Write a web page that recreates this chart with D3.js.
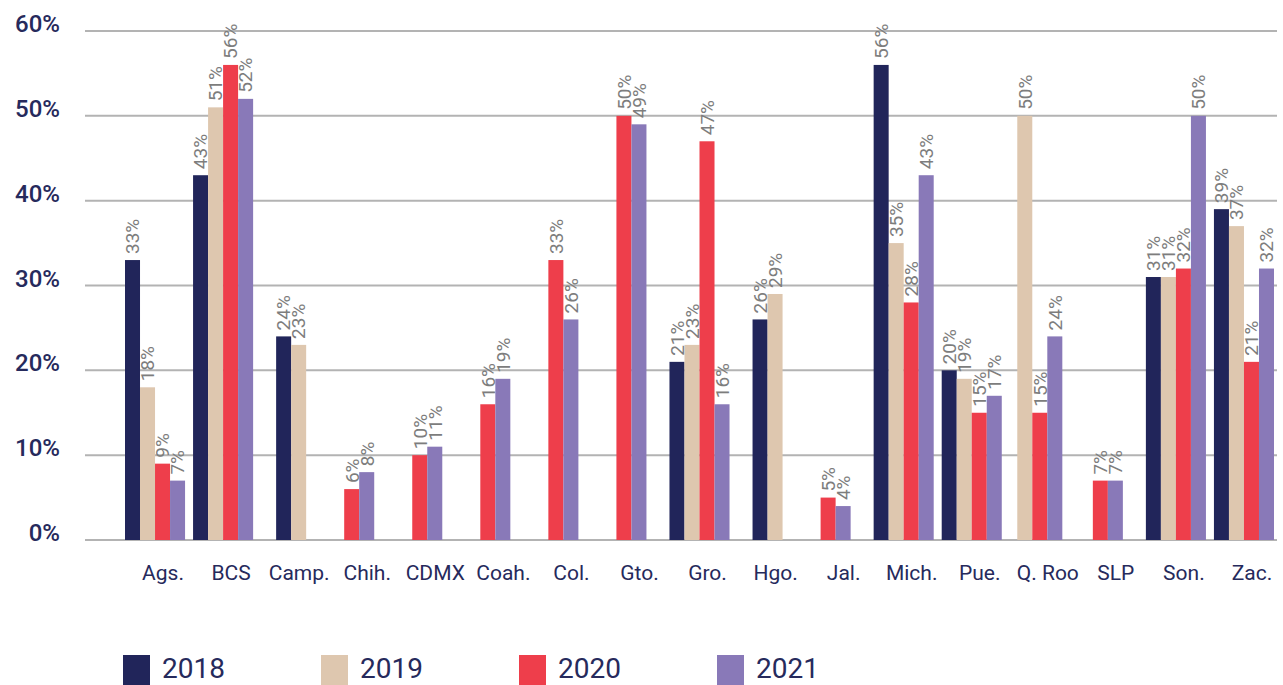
<!DOCTYPE html>
<html>
<head>
<meta charset="utf-8">
<script src="https://cdn.jsdelivr.net/npm/d3@7"></script>
<style>
  html, body { margin: 0; padding: 0; background: #fff; }
  svg { display: block; font-family: Roboto, "Noto Sans", sans-serif; }
</style>
</head>
<body>
<svg id="chart" width="1283" height="685"></svg>
<script>
// States (abbreviated) and yearly shares, in percent; null = no data for that year
const categories = ["Ags.", "BCS", "Camp.", "Chih.", "CDMX", "Coah.", "Col.", "Gto.", "Gro.",
  "Hgo.", "Jal.", "Mich.", "Pue.", "Q. Roo", "SLP", "Son.", "Zac."];
const years = ["2018", "2019", "2020", "2021"];
const values2018 = [33, 43, 24, null, null, null, null, null, 21, 26, null, 56, 20, null, null, 31, 39];
const values2019 = [18, 51, 23, null, null, null, null, null, 23, 29, null, 35, 19, 50, null, 31, 37];
const values2020 = [9, 56, null, 6, 10, 16, 33, 50, 47, null, 5, 28, 15, 15, 7, 32, 21];
const values2021 = [7, 52, null, 8, 11, 19, 26, 49, 16, null, 4, 43, 17, 24, 7, 50, 32];
const yTicks = [0, 10, 20, 30, 40, 50, 60];

const seriesValues = [values2018, values2019, values2020, values2021];
const colors = ["#21255a", "#dec7af", "#ee3e4b", "#8979b8"];

const svg = d3.select("#chart");

const y = d3.scaleLinear().domain([0, 60]).range([540, 31]);
const x = d3.scaleBand().domain(categories).range([121, 1278])
  .paddingInner(0.1176).paddingOuter(0.0588);
const color = d3.scaleOrdinal().domain(years).range(colors);

// Horizontal gridlines
svg.append("g").selectAll("line").data(yTicks).join("line")
  .attr("x1", 85).attr("x2", 1277)
  .attr("y1", d => y(d)).attr("y2", d => y(d))
  .attr("stroke", "#b3b3b3").attr("stroke-width", 2);

// Y tick labels
svg.append("g").selectAll("text").data(yTicks).join("text")
  .attr("x", 60).attr("y", d => y(d) + 1)
  .attr("text-anchor", "end")
  .attr("font-size", 24).attr("font-weight", 500)
  .attr("fill", "#262a5c")
  .text(d => d + "%");

// Bars: within each state, only years with data are packed and centred
const barW = x.bandwidth() / 4;
const groups = svg.append("g").selectAll("g").data(categories).join("g");

groups.each(function (cat, ci) {
  const present = years
    .map((yr, si) => ({ year: yr, value: seriesValues[si][ci] }))
    .filter(d => d.value !== null);
  const cx = x(cat) + x.bandwidth() / 2;
  const inner = d3.scaleBand().domain(present.map(d => d.year))
    .range([cx - present.length * barW / 2, cx + present.length * barW / 2]);
  const g = d3.select(this);
  g.selectAll("rect").data(present).join("rect")
    .attr("x", d => inner(d.year))
    .attr("width", inner.bandwidth())
    .attr("y", d => y(d.value))
    .attr("height", d => y(0) - y(d.value))
    .attr("fill", d => color(d.year));
  g.selectAll("text").data(present).join("text")
    .attr("transform", d =>
      `translate(${inner(d.year) + inner.bandwidth() / 2},${y(d.value) - 6}) rotate(-90)`)
    .attr("dy", "0.36em")
    .attr("text-anchor", "start")
    .attr("font-size", 19)
    .attr("fill", "#7d7d7d")
    .text(d => d.value + "%");
});

// Category axis
const xAxis = svg.append("g")
  .attr("transform", "translate(0,540)")
  .call(d3.axisBottom(x).tickSize(0).tickPadding(0));
xAxis.select(".domain").remove();
xAxis.selectAll("text")
  .attr("y", 40).attr("dy", 0).attr("dx", 8)
  .attr("font-family", "Roboto, sans-serif")
  .attr("font-size", 21)
  .attr("fill", "#262a5c");

// Legend
const legend = svg.append("g").selectAll("g").data(years).join("g")
  .attr("transform", (d, i) => `translate(${123 + i * 198},655)`);
legend.append("rect")
  .attr("width", 27).attr("height", 30)
  .attr("fill", d => color(d));
legend.append("text")
  .attr("x", 39).attr("y", 23)
  .attr("font-size", 28)
  .attr("fill", "#262a5c")
  .text(d => d);
</script>
</body>
</html>
